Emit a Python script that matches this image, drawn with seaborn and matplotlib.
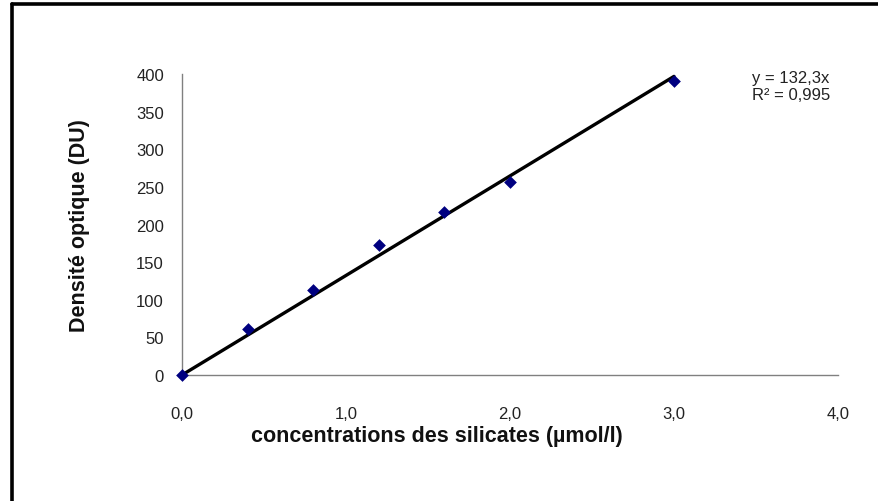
import matplotlib
matplotlib.use("Agg")
import matplotlib.pyplot as plt
from matplotlib.lines import Line2D
import numpy as np
import pandas as pd
import seaborn as sns

# Data
concentrations = [0.0, 0.4, 0.8, 1.2, 1.6, 2.0, 3.0]
densite = [0, 61, 113, 173, 217, 256, 391]
x_ticks = [0.0, 1.0, 2.0, 3.0, 4.0]
x_ticklabels = ["0,0", "1,0", "2,0", "3,0", "4,0"]
y_ticks = [0, 50, 100, 150, 200, 250, 300, 350, 400]
eq_text = "y = 132,3x"
r2_text = "R² = 0,995"
x_label = "concentrations des silicates (µmol/l)"
y_label = "Densité optique (DU)"

df = pd.DataFrame({"x": concentrations, "y": densite})
slope = float(np.sum(df.x * df.y) / np.sum(df.x ** 2))
trend = pd.DataFrame({"x": [min(concentrations), max(concentrations)]})
trend["y"] = slope * trend["x"]

sns.set_style("white")
plt.rcParams["font.family"] = ["Liberation Sans", "DejaVu Sans"]

fig = plt.figure(figsize=(8.79, 5.02), dpi=100)
ax = fig.add_axes([182 / 879, 1 - 376 / 502, (838 - 182) / 879, (376 - 75) / 502])

sns.lineplot(data=trend, x="x", y="y", ax=ax, color="black", linewidth=2.4, zorder=2)
sns.scatterplot(data=df, x="x", y="y", ax=ax, marker="D", color="#000080",
                s=42, edgecolor="#000080", linewidth=0, zorder=3, clip_on=False)

ax.set_xlim(0, 4)
ax.set_ylim(0, 400)
ax.set_xticks(x_ticks)
ax.set_xticklabels(x_ticklabels)
ax.set_yticks(y_ticks)
ax.tick_params(axis="both", labelsize=12, colors="#222222", direction="out",
               length=5, width=1)
ax.tick_params(axis="x", color="#808080", pad=17)
ax.tick_params(axis="y", color="#808080", pad=8)
for s in ["top", "right"]:
    ax.spines[s].set_visible(False)
for s in ["left", "bottom"]:
    ax.spines[s].set_color("#808080")
    ax.spines[s].set_linewidth(1.0)

ax.set_xlabel(x_label, fontsize=15.5, fontweight="bold", color="#111111")
ax.set_ylabel(y_label, fontsize=15.5, fontweight="bold", color="#111111")
ax.xaxis.set_label_coords((437 - 182) / 656, (376 - 437) / 301)
ax.xaxis.label.set_va("center")
ax.yaxis.set_label_coords((80 - 182) / 656, (376 - 226) / 301)
ax.yaxis.label.set_va("center")

ax.text(3.475, 384, eq_text + "\n" + r2_text, fontsize=12, color="#222222",
        ha="left", va="center", linespacing=1.15)

# thick frame (top and left edges visible)
fig.add_artist(Line2D([12 / 879, 1.0], [1 - 5 / 502, 1 - 5 / 502],
                      transform=fig.transFigure, color="black", linewidth=2.6))
fig.add_artist(Line2D([12 / 879, 12 / 879], [0.0, 1 - 5 / 502],
                      transform=fig.transFigure, color="black", linewidth=2.6))

fig.savefig("out.png", dpi=100)
